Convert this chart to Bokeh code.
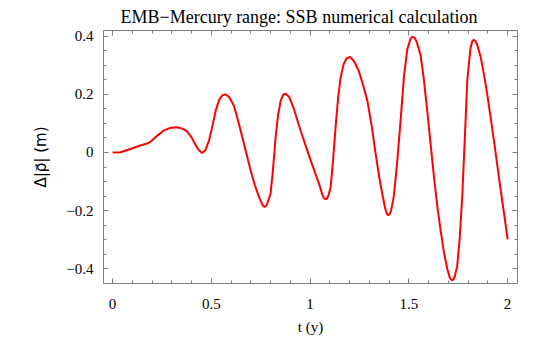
from bokeh.plotting import figure
from bokeh.models import (Range1d, FixedTicker, LinearAxis, CustomJSTickFormatter, ColumnDataSource)
from bokeh.embed import file_html
from bokeh.resources import INLINE

t_vals = [0.000, 0.040, 0.090, 0.140, 0.167, 0.190, 0.226, 0.260, 0.290, 0.324,
          0.350, 0.375, 0.400, 0.420, 0.437, 0.454, 0.470, 0.488, 0.505, 0.522,
          0.540, 0.556, 0.572, 0.590, 0.614, 0.635, 0.657, 0.680, 0.699, 0.720,
          0.741, 0.757, 0.764, 0.771, 0.778, 0.785, 0.800, 0.812, 0.825, 0.838,
          0.851, 0.863, 0.876, 0.893, 0.918, 0.952, 0.994, 1.020, 1.045, 1.062,
          1.070, 1.078, 1.085, 1.092, 1.104, 1.117, 1.129, 1.142, 1.154, 1.170,
          1.186, 1.202, 1.222, 1.247, 1.270, 1.290, 1.312, 1.332, 1.350, 1.365,
          1.381, 1.389, 1.396, 1.403, 1.410, 1.424, 1.440, 1.458, 1.475, 1.492,
          1.509, 1.516, 1.523, 1.531, 1.540, 1.559, 1.576, 1.593, 1.610, 1.627,
          1.644, 1.661, 1.678, 1.695, 1.708, 1.714, 1.720, 1.727, 1.733, 1.745,
          1.758, 1.771, 1.784, 1.796, 1.812, 1.821, 1.829, 1.837, 1.846, 1.863,
          1.880, 1.897, 1.914, 1.931, 1.948, 1.965, 1.983, 2.000]
drho_vals = [0.000, 0.001, 0.012, 0.024, 0.029, 0.036, 0.058, 0.076, 0.084, 0.087,
             0.083, 0.074, 0.052, 0.026, 0.008, -0.002, 0.008, 0.041, 0.090, 0.144,
             0.182, 0.197, 0.200, 0.191, 0.162, 0.110, 0.052, -0.010, -0.062, -0.112,
             -0.153, -0.178, -0.185, -0.187, -0.183, -0.172, -0.141, -0.060, 0.050, 0.130,
             0.178, 0.198, 0.203, 0.192, 0.150, 0.075, -0.010, -0.060, -0.107, -0.145,
             -0.157, -0.161, -0.159, -0.150, -0.120, -0.020, 0.087, 0.190, 0.257, 0.305,
             0.325, 0.329, 0.315, 0.280, 0.228, 0.178, 0.090, -0.005, -0.085, -0.141,
             -0.195, -0.211, -0.216, -0.212, -0.200, -0.150, -0.040, 0.109, 0.260, 0.355,
             0.392, 0.397, 0.398, 0.393, 0.380, 0.337, 0.250, 0.144, 0.030, -0.084,
             -0.185, -0.270, -0.345, -0.403, -0.432, -0.438, -0.440, -0.436, -0.425, -0.390,
             -0.290, -0.141, 0.060, 0.250, 0.360, 0.383, 0.388, 0.384, 0.370, 0.330,
             0.270, 0.200, 0.120, 0.040, -0.045, -0.130, -0.215, -0.299]

x_major = [0, 0.5, 1, 1.5, 2]
x_minor = [round(i * 0.1, 2) for i in range(0, 21)]
y_major = [-0.4, -0.2, 0, 0.2, 0.4]
y_minor = [round(-0.45 + i * 0.05, 2) for i in range(0, 18)]

FONT = "Liberation Serif"
FRAME_COLOR = "#7f7f7f"

p = figure(width=545, height=337, output_backend="svg", toolbar_location=None,
           x_range=Range1d(-0.046, 2.05), y_range=Range1d(-0.451, 0.42),
           min_border_left=103, min_border_right=28, min_border_top=28, min_border_bottom=54,
           x_axis_label="t (y)", y_axis_label="\u0394|\u03c1\u20d7| (m)")

p.title.text = "EMB\u2212Mercury range: SSB numerical calculation"
p.title.text_font = FONT
p.title.text_font_size = "18px"
p.title.text_font_style = "normal"
p.title.align = "left"
p.title.offset = 17
p.title.standoff = 8
p.title.text_color = "black"

p.grid.visible = False
p.outline_line_color = None

src = ColumnDataSource(data=dict(t=t_vals, d=drho_vals))
p.line("t", "d", source=src, line_color="#ff0000", line_width=2)

fmt = CustomJSTickFormatter(code="return tick.toString().replace('-', '\u2212');")
blank = CustomJSTickFormatter(code="return '';")

def style(ax, major, minor, labels=True):
    ax.ticker = FixedTicker(ticks=major, minor_ticks=minor)
    ax.axis_line_color = FRAME_COLOR
    ax.axis_line_width = 1
    ax.major_tick_line_color = FRAME_COLOR
    ax.minor_tick_line_color = FRAME_COLOR
    ax.major_tick_in = 5
    ax.major_tick_out = 0
    ax.minor_tick_in = 3
    ax.minor_tick_out = 0
    ax.major_label_text_font = FONT
    ax.major_label_text_font_size = "15px"
    ax.major_label_text_color = "black"
    ax.axis_label_text_font = FONT
    ax.axis_label_text_font_size = "15px"
    ax.axis_label_text_font_style = "normal"
    ax.axis_label_text_color = "black"
    ax.formatter = fmt if labels else blank

style(p.xaxis[0], x_major, x_minor)
style(p.yaxis[0], y_major, y_minor)
p.yaxis[0].axis_label_text_font = "DejaVu Sans"
p.yaxis[0].axis_label_text_font_size = "15px"
p.xaxis[0].major_label_standoff = 15
p.xaxis[0].axis_label_standoff = 7
p.yaxis[0].major_label_standoff = 10
p.yaxis[0].axis_label_standoff = 13

right = LinearAxis()
style(right, y_major, y_minor, labels=False)
right.major_label_standoff = 0
p.add_layout(right, "right")
top = LinearAxis()
style(top, x_major, x_minor, labels=False)
top.major_label_standoff = 0
p.add_layout(top, "above")

open("out.html", "w").write(file_html(p, INLINE))
